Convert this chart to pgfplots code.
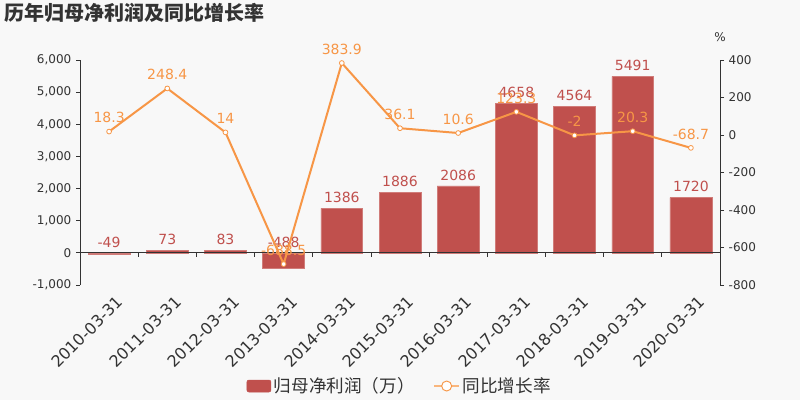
\documentclass[border=0pt]{standalone}
\usepackage{fontspec}
\setmainfont{DejaVu Sans}
\newfontfamily\cjk{Noto Sans CJK SC}
\usepackage{pgfplots}
\pgfplotsset{compat=1.18}

\definecolor{bgcol}{HTML}{F8F8F8}
\definecolor{barcol}{HTML}{C0504D}
\definecolor{linecol}{HTML}{F79646}
\definecolor{txt}{HTML}{333333}

\pgfplotsset{
  common/.style={
    at={(60pt,86.25pt)}, anchor=south west,
    scale only axis, width=480pt, height=168.75pt,
    xmin=-0.5, xmax=10.5, clip=false,
    /pgf/number format/assume math mode=true,
    /pgf/number format/1000 sep={,},
    tick label style={font=\fontsize{9}{9}\selectfont, text=txt},
    axis line style={txt, line width=0.6pt},
    tick style={txt, line width=0.6pt},
    tick align=outside, major tick length=3pt,
  }
}

\begin{document}
\begin{tikzpicture}[x=0.75pt,y=0.75pt]
\useasboundingbox (0,0) rectangle (800,400);
\fill[bgcol] (0,0) rectangle (800,400);
\node[anchor=west, text=txt, inner sep=0pt,
      font=\cjk\bfseries\fontsize{15}{15}\selectfont] at (4,387) {历年归母净利润及同比增长率};

\begin{axis}[common,
  ymin=-1000, ymax=6000, ytick={-1000,0,...,6000},
  axis y line*=left, axis x line*=bottom,
  x axis line style={draw=none},
  xtick={0,...,10}, xtick style={draw=none},
  xticklabels={2010-03-31,2011-03-31,2012-03-31,2013-03-31,2014-03-31,2015-03-31,2016-03-31,2017-03-31,2018-03-31,2019-03-31,2020-03-31},
  xticklabel style={rotate=45, anchor=north east, font=\fontsize{12}{12}\selectfont, xshift=4pt, yshift=-3pt},
  legend columns=2,
  legend style={draw=none, fill=none, at={(0.5,-0.449)}, anchor=center,
    font=\cjk\fontsize{13.2}{13.2}\selectfont, text=txt,
    /tikz/every even column/.append style={column sep=12pt}},
]
\addplot[ybar, bar width=0.72, fill=barcol, draw=barcol!75!white, line width=0.4pt,
  legend image code/.code={\fill[barcol, rounded corners=1.5pt] (0pt,-4.5pt) rectangle (18pt,4.5pt);}]
  coordinates {(0,-49) (1,73) (2,83) (3,-488) (4,1386) (5,1886) (6,2086) (7,4658) (8,4564) (9,5491) (10,1720)};
\addlegendentry{归母净利润（万）}
\addlegendimage{legend image code/.code={
  \draw[linecol!70!white, line width=1pt] (0pt,0pt) -- (19pt,0pt);
  \draw[linecol, fill=white, line width=0.7pt] (9.5pt,0pt) circle (3.75pt);}}
\addlegendentry{同比增长率}
\addplot[forget plot, only marks, mark=none, nodes near coords, point meta=explicit symbolic,
  nodes near coords style={anchor=south, text=barcol, font=\fontsize{10.5}{10.5}\selectfont, inner sep=2pt, yshift=2pt}]
  coordinates {(0,0)[-49] (1,73)[73] (2,83)[83] (3,0)[-488] (4,1386)[1386] (5,1886)[1886]
               (6,2086)[2086] (7,4658)[4658] (8,4564)[4564] (9,5491)[5491] (10,1720)[1720]};
\draw[txt, line width=0.6pt] (axis cs:-0.5,0) -- (axis cs:10.5,0);
\pgfplotsinvokeforeach{0.5,1.5,2.5,3.5,4.5,5.5,6.5,7.5,8.5,9.5}{
  \draw[txt, line width=0.6pt] (axis cs:#1,0) -- ++(0pt,-3pt);
}
\end{axis}

\begin{axis}[common,
  ymin=-800, ymax=400, ytick={-800,-600,...,400},
  axis y line*=right, axis x line=none,
]
\addplot[linecol, line width=1.5pt, mark=*, mark size=1.8pt,
  mark options={fill=white, draw=linecol, line width=0.6pt},
  nodes near coords, point meta=explicit symbolic,
  nodes near coords style={anchor=south, text=linecol, font=\fontsize{10.5}{10.5}\selectfont, inner sep=2pt, yshift=4pt}]
  coordinates {(0,18.3)[18.3] (1,248.4)[248.4] (2,14)[14] (3,-688.5)[-688.5] (4,383.9)[383.9]
               (5,36.1)[36.1] (6,10.6)[10.6] (7,123.3)[123.3] (8,-2)[-2] (9,20.3)[20.3] (10,-68.7)[-68.7]};
\node[anchor=south, text=txt, font=\fontsize{9}{9}\selectfont] at (axis description cs:1,1) [yshift=10pt] {\%};
\end{axis}
\end{tikzpicture}
\end{document}
